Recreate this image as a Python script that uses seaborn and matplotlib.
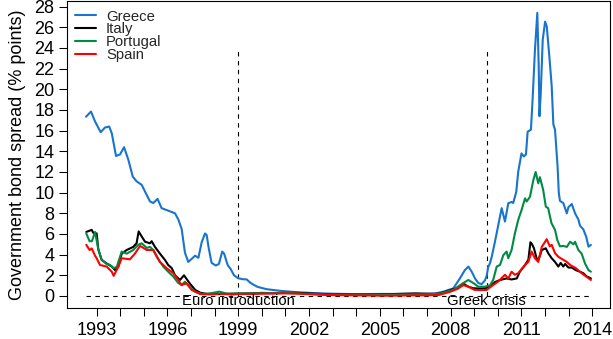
import matplotlib
matplotlib.use("Agg")
import matplotlib.pyplot as plt
import seaborn as sns
import pandas as pd

# ---------------- data ----------------
countries = ["Greece", "Italy", "Portugal", "Spain"]
colors = ["#1874CD", "#000000", "#008B45", "#FF0000"]

greece_year = [1992.55, 1992.76, 1992.93, 1993.17, 1993.35, 1993.53, 1993.64, 1993.82, 1993.99,
               1994.16, 1994.34, 1994.53, 1994.69, 1994.91, 1995.05, 1995.26, 1995.40, 1995.58,
               1995.75, 1996.10, 1996.32, 1996.46, 1996.60, 1996.74, 1996.88, 1997.03, 1997.17,
               1997.31, 1997.45, 1997.59, 1997.66, 1997.75, 1997.87, 1998.05, 1998.18, 1998.32,
               1998.40, 1998.55, 1998.68, 1998.82, 1999.00, 1999.21, 1999.36, 1999.50, 1999.64,
               1999.82, 2000.20, 2000.77, 2001.47, 2002.30, 2003.00, 2004.00, 2005.00, 2006.00,
               2006.70, 2007.30, 2007.69, 2008.11, 2008.39, 2008.60, 2008.75, 2008.89, 2009.03,
               2009.17, 2009.31, 2009.45, 2009.52, 2009.59, 2009.67, 2009.74, 2009.88, 2010.02,
               2010.16, 2010.30, 2010.44, 2010.58, 2010.65, 2010.78, 2010.86, 2011.00, 2011.10,
               2011.19, 2011.26, 2011.40, 2011.47, 2011.57, 2011.67, 2011.73, 2011.76, 2011.81,
               2011.90, 2012.00, 2012.07, 2012.18, 2012.28, 2012.35, 2012.42, 2012.49, 2012.53,
               2012.58, 2012.63, 2012.77, 2012.92, 2012.99, 2013.13, 2013.27, 2013.41, 2013.48,
               2013.62, 2013.74, 2013.84, 2013.94]
greece_spread = [17.35, 17.85, 16.9, 15.85, 16.3, 16.4, 15.75, 13.55, 13.7,
                 14.4, 13.2, 11.55, 11.1, 10.75, 10.1, 9.15, 9.0, 9.4,
                 8.5, 8.2, 8.0, 7.4, 6.5, 4.2, 3.3, 3.6, 3.9,
                 3.7, 5.2, 6.05, 5.9, 4.6, 3.2, 2.95, 3.1, 4.3,
                 4.1, 3.0, 2.6, 2.0, 1.71, 1.62, 1.6, 1.3, 1.1,
                 0.88, 0.66, 0.5, 0.37, 0.27, 0.22, 0.18, 0.2, 0.2,
                 0.2, 0.22, 0.42, 0.74, 1.7, 2.5, 2.85, 2.35, 1.7,
                 1.25, 1.15, 1.5, 1.9, 2.8, 3.2, 3.8, 5.3, 6.9,
                 8.5, 7.2, 8.97, 9.1, 9.0, 10.1, 12.0, 13.8, 13.5,
                 13.7, 15.9, 16.1, 19.0, 23.8, 27.4, 22.2, 17.4, 19.3,
                 24.8, 26.55, 26.1, 23.2, 20.3, 16.6, 16.1, 13.8, 12.5,
                 10.0, 9.2, 9.0, 8.0, 8.6, 8.9, 8.0, 7.4, 6.8,
                 6.45, 5.74, 4.77, 4.94]

italy_year = [1992.56, 1992.79, 1992.86, 1993.00, 1993.07, 1993.21, 1993.42, 1993.64, 1993.78,
              1993.92, 1994.06, 1994.27, 1994.55, 1994.69, 1994.78, 1994.91, 1995.05, 1995.26,
              1995.33, 1995.47, 1995.68, 1995.89, 1996.03, 1996.18, 1996.32, 1996.53, 1996.70,
              1996.95, 1997.17, 1997.38, 1997.66, 1998.00, 1998.50, 1999.00, 1999.50, 2000.00,
              2000.50, 2001.00, 2001.50, 2002.00, 2002.50, 2003.00, 2003.50, 2004.00, 2004.50,
              2005.00, 2005.50, 2006.00, 2006.50, 2007.00, 2007.50, 2007.97, 2008.30, 2008.53,
              2008.75, 2008.96, 2009.20, 2009.45, 2009.67, 2009.88, 2010.09, 2010.37, 2010.58,
              2010.80, 2010.93, 2011.15, 2011.29, 2011.38, 2011.45, 2011.53, 2011.64, 2011.72,
              2011.86, 2012.03, 2012.13, 2012.28, 2012.42, 2012.56, 2012.66, 2012.77, 2012.85,
              2012.99, 2013.13, 2013.30, 2013.48, 2013.62, 2013.76, 2013.94]
italy_spread = [6.2, 6.4, 6.1, 6.05, 4.5, 3.5, 3.15, 2.85, 2.5,
                2.85, 4.1, 4.45, 4.75, 5.1, 6.25, 5.75, 5.25, 5.1,
                5.3, 4.75, 4.1, 3.5, 3.0, 2.7, 2.0, 1.55, 2.0,
                1.2, 0.6, 0.32, 0.2, 0.2, 0.22, 0.22, 0.25, 0.3,
                0.28, 0.3, 0.3, 0.25, 0.2, 0.15, 0.15, 0.14, 0.15,
                0.15, 0.18, 0.22, 0.25, 0.22, 0.22, 0.55, 0.8, 1.2,
                0.9, 0.75, 0.72, 0.75, 0.9, 1.35, 1.55, 1.7, 1.6,
                1.7, 2.35, 3.0, 3.5, 5.2, 5.0, 4.6, 3.65, 3.5,
                4.45, 4.62, 4.15, 3.65, 3.3, 2.85, 3.2, 2.85, 3.1,
                2.75, 2.75, 2.5, 2.35, 2.2, 1.9, 1.7]

portugal_year = [1992.56, 1992.70, 1992.80, 1992.93, 1993.07, 1993.21, 1993.42, 1993.57, 1993.70,
                 1993.85, 1994.06, 1994.27, 1994.55, 1994.76, 1994.91, 1995.12, 1995.26, 1995.40,
                 1995.58, 1995.82, 1996.03, 1996.25, 1996.46, 1996.60, 1996.74, 1996.95, 1997.17,
                 1997.45, 1997.80, 1998.20, 1998.55, 1999.00, 1999.50, 2000.00, 2001.00, 2002.00,
                 2003.00, 2004.00, 2005.00, 2006.00, 2007.00, 2007.50, 2007.97, 2008.11, 2008.30,
                 2008.53, 2008.75, 2008.96, 2009.17, 2009.45, 2009.67, 2009.80, 2009.95, 2010.09,
                 2010.23, 2010.37, 2010.44, 2010.58, 2010.72, 2010.86, 2011.00, 2011.15, 2011.22,
                 2011.36, 2011.50, 2011.60, 2011.71, 2011.78, 2011.92, 2012.03, 2012.13, 2012.27,
                 2012.42, 2012.52, 2012.63, 2012.77, 2012.92, 2013.06, 2013.20, 2013.27, 2013.41,
                 2013.55, 2013.69, 2013.84, 2013.94]
portugal_spread = [6.05, 5.3, 5.3, 6.2, 4.5, 3.5, 3.1, 3.0, 2.7,
                   2.8, 4.3, 4.1, 4.45, 4.95, 5.1, 4.65, 4.75, 4.45,
                   3.65, 2.85, 2.35, 1.87, 1.25, 1.06, 1.38, 0.85, 0.42,
                   0.2, 0.25, 0.42, 0.2, 0.26, 0.25, 0.27, 0.3, 0.2,
                   0.12, 0.12, 0.12, 0.15, 0.17, 0.2, 0.5, 0.58, 0.9,
                   1.25, 1.55, 1.25, 0.9, 0.9, 1.05, 1.55, 2.85, 3.0,
                   3.95, 4.3, 3.65, 4.45, 6.05, 7.35, 8.3, 9.45, 9.15,
                   9.6, 11.2, 12.0, 10.9, 11.5, 10.25, 8.65, 8.5, 7.05,
                   6.4, 5.4, 4.8, 4.85, 4.75, 5.25, 5.0, 5.25, 4.45,
                   4.1, 3.15, 2.5, 2.35]

spain_year = [1992.56, 1992.70, 1992.79, 1992.93, 1993.00, 1993.14, 1993.42, 1993.64, 1993.72,
              1993.92, 1994.06, 1994.41, 1994.62, 1994.84, 1995.12, 1995.40, 1995.68, 1995.96,
              1996.25, 1996.60, 1996.81, 1997.03, 1997.38, 1997.80, 1998.30, 1998.80, 1999.00,
              1999.50, 2000.00, 2000.50, 2001.00, 2001.50, 2002.00, 2002.50, 2003.00, 2003.50,
              2004.00, 2004.50, 2005.00, 2005.50, 2006.00, 2006.50, 2007.00, 2007.50, 2007.97,
              2008.30, 2008.53, 2008.75, 2009.00, 2009.20, 2009.52, 2009.70, 2010.00, 2010.30,
              2010.44, 2010.58, 2010.72, 2010.86, 2011.15, 2011.29, 2011.43, 2011.57, 2011.71,
              2011.86, 2012.07, 2012.20, 2012.28, 2012.42, 2012.56, 2012.66, 2012.92, 2013.06,
              2013.30, 2013.55, 2013.94]
spain_spread = [4.95, 4.45, 4.6, 3.9, 3.65, 3.0, 2.85, 2.35, 1.95,
                2.85, 3.65, 3.55, 4.1, 4.85, 4.45, 4.45, 3.3, 2.7,
                2.2, 1.06, 1.23, 0.58, 0.19, 0.15, 0.2, 0.15, 0.2,
                0.2, 0.22, 0.24, 0.25, 0.23, 0.18, 0.12, 0.08, 0.07,
                0.06, 0.05, 0.03, 0.03, 0.05, 0.06, 0.06, 0.1, 0.4,
                0.7, 1.05, 0.9, 0.6, 0.58, 0.58, 0.9, 1.38, 2.05,
                1.7, 2.35, 2.05, 2.2, 3.0, 3.3, 4.3, 3.65, 3.3,
                4.75, 5.5, 4.8, 4.95, 4.15, 3.8, 3.65, 3.3, 3.0,
                2.7, 2.2, 1.55]

event_labels = ["Euro introduction", "Greek crisis"]
event_years = [1999.0, 2009.52]
event_top = 24

x_ticks = list(range(1993, 2015))
x_tick_labels = [str(y) if (y - 1993) % 3 == 0 else "" for y in x_ticks]
y_ticks = list(range(0, 29, 2))

# ---------------- build long table ----------------
frames = []
for name, yrs, vals in [("Greece", greece_year, greece_spread),
                        ("Italy", italy_year, italy_spread),
                        ("Portugal", portugal_year, portugal_spread),
                        ("Spain", spain_year, spain_spread)]:
    frames.append(pd.DataFrame({"year": yrs, "spread": vals, "country": name}))
df = pd.concat(frames, ignore_index=True)

# ---------------- plot ----------------
sns.set_theme(style="white")
plt.rcParams["font.family"] = ["Liberation Sans", "DejaVu Sans"]

fig = plt.figure(figsize=(6.13, 3.39), dpi=100)
ax = fig.add_axes([0.1088, 0.0906, 0.8863, 0.9050])

sns.lineplot(data=df, x="year", y="spread", hue="country", hue_order=countries,
             palette=dict(zip(countries, colors)), estimator=None, sort=False,
             linewidth=1.5, ax=ax, zorder=3)

dash = (0, (4, 4))
ax.hlines(0, df["year"].min(), df["year"].max(), colors="black", linestyles=dash,
          linewidth=0.8, zorder=2)
for lab, yr in zip(event_labels, event_years):
    ax.vlines(yr, 0, event_top, colors="black", linestyles=dash, linewidth=0.8, zorder=2)
    ax.text(yr, -0.5, lab, ha="center", va="center", fontsize=10.7, color="black", zorder=4)

ax.set_xlim(1991.73, 2014.75)
ax.set_ylim(-1.19, 28.5)
ax.set_xticks(x_ticks)
ax.set_xticklabels(x_tick_labels)
ax.set_yticks(y_ticks)
ax.set_yticklabels([str(v) for v in y_ticks])
ax.tick_params(axis="both", which="major", direction="out", length=5.8, width=0.75,
               color="black", labelsize=13, labelcolor="black", pad=3,
               bottom=True, left=True)
ax.tick_params(axis="x", pad=4)
ax.set_xlabel("")
ax.set_ylabel("Government bond spread (% points)", fontsize=13, color="black", labelpad=6)
for s in ax.spines.values():
    s.set_visible(True)
    s.set_color("black")
    s.set_linewidth(0.8)

handles, labels = ax.get_legend_handles_labels()
leg = ax.legend(handles, labels, loc="upper left", frameon=False, fontsize=10.7,
                handlelength=1.4, handletextpad=0.7, labelspacing=-0.08,
                borderaxespad=0.3, borderpad=0.25)

fig.savefig("out.png", dpi=100)
